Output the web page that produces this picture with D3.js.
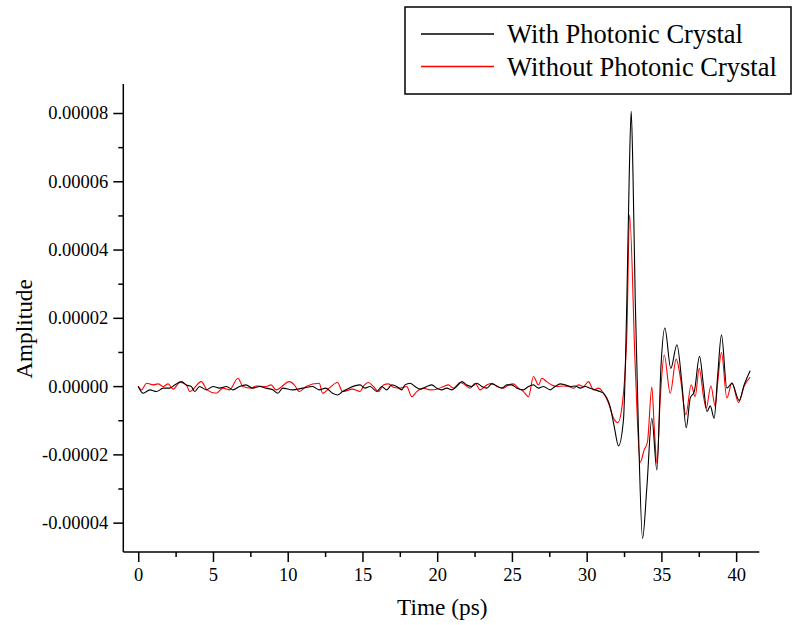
<!DOCTYPE html>
<html lang="en">
<head>
<meta charset="UTF-8">
<title>Time domain amplitude</title>
<style>
    body { margin: 0; background: #fff; }
    svg text { font-family: "Liberation Serif", "Times New Roman", serif; fill: #000; }
    .line { fill: none; stroke-width: 1.1px; }
    .tick-label { font-size: 18.5px; }
    .axis-title { font-size: 23.3px; }
    .legend-text { font-size: 26.5px; }
</style>
</head>
<body>
<svg id="chart" width="797" height="625"></svg>
<script src="https://cdn.jsdelivr.net/npm/d3@7"></script>
<script>
// amplitudes are in units of 1e-6
const timeWith = [
    0, 0.33, 0.78, 1.22, 1.67, 2.1, 2.44, 2.9, 3.2, 3.55, 3.78, 4.1, 4.55, 5.0, 5.44, 5.9, 6.33, 6.78,
    7.2, 7.67, 8.1, 8.55, 9.0, 9.33, 9.67, 10.33, 11.0, 11.67, 12.1, 12.55, 13.0, 13.33, 13.67, 14.1,
    14.84, 15.17, 15.51, 15.96, 16.29, 16.62, 16.96, 17.29, 17.63, 17.85, 18.19, 18.52, 18.86, 19.3,
    19.64, 19.97, 20.3, 20.64, 20.98, 21.31, 21.65, 21.98, 22.31, 22.65, 22.98, 23.32, 23.65, 23.99,
    24.32, 24.66, 24.99, 25.33, 25.77, 26.11, 26.44, 26.78, 27.11, 27.56, 27.89, 28.23, 28.56, 28.9,
    29.23, 29.57, 29.9, 30.23, 30.57, 30.9, 31.13, 31.35, 31.57, 31.85, 32.13, 32.46, 32.69, 32.85,
    32.98, 33.1, 33.25, 33.47, 33.74, 34.03, 34.36, 34.7, 34.97, 35.23, 35.63, 36.04, 36.37, 36.66,
    36.93, 37.2, 37.55, 37.82, 38.05, 38.27, 38.53, 38.76, 39.02, 39.38, 39.72, 40.2, 40.54, 40.94
];
const ampWith = [
    -0.1, -2.1, -1.1, -1.6, -0.6, -0.6, 0.35, 1.3, 0.35, -0.1, -1.6, -0.1, -1.1, -0.1, -0.6, -0.1, -1.1, -0.1,
    0.35, -0.6, -0.1, -0.6, -1.1, -2.1, -0.6, -1.1, -0.6, -0.1, -1.1, -0.6, -2.1, -2.6, -1.6, -0.6,
    0.35, -0.6, -0.1, -1.6, -0.1, -1.1, 0.35, -0.1, -1.1, 0.35, 0.85, -0.1, -0.9, -0.1,
    0.35, -0.6, -1.1, -0.6, -1.1, -0.1, 1.3, 0.35, -0.1, 0.85, -0.1, -0.6, 0.65, 0.05,
    -0.6, 0.35, 0.35, -0.6, -1.1, -0.1, 0.35, -0.6, -0.1, -1.1, -0.1, 0.65, 0.35, -0.1,
    0.05, -0.6, -0.1, -0.6, -1.1, -1.6, -2.1, -3.5, -6, -12, -17.5, -10, 25.3, 62,
    80.5, 62, 25.3, -13.7, -44.6, -29.5, -9.4, -24.6, 5.7, 17.0, 5.2, 12.1, 0.9, -12.2,
    -3.5, -1.6, 8.7, -0.1, -7.5, -5.8, -9.4, 2.8, 15.0, -0.6, 0.8, -4.2, 0.4, 4.5
];
const timeWithout = [
    0, 0.22, 0.56, 1.0, 1.33, 1.67, 2.0, 2.33, 2.78, 3.22, 3.44, 4.22, 4.6, 5.22, 5.67, 6.11, 6.67, 7.0,
    7.56, 7.89, 8.56, 8.89, 9.22, 10.11, 10.44, 10.78, 11.22, 12.11, 12.33, 12.78, 13.33, 13.67, 14.33,
    14.84, 15.06, 15.4, 15.73, 16.07, 16.4, 16.74, 17.07, 17.52, 17.96, 18.3, 18.63, 19.08, 19.53,
    19.97, 20.42, 20.75, 21.09, 21.53, 21.87, 22.2, 22.54, 22.87, 23.32, 23.65, 23.99, 24.43, 24.77,
    25.1, 25.44, 25.77, 26.11, 26.44, 26.78, 27.0, 27.33, 27.67, 28.0, 28.45, 28.78, 29.12, 29.45,
    29.79, 30.12, 30.46, 30.79, 31.13, 31.46, 31.8, 32.09, 32.35, 32.69, 32.87, 33.25, 33.58, 33.85,
    34.07, 34.36, 34.52, 34.7, 34.92, 35.19, 35.59, 35.99, 36.26, 36.64, 36.99, 37.26, 37.53, 37.82,
    38.0, 38.31, 38.6, 38.76, 39.02, 39.38, 39.72, 40.16, 40.54, 40.94
];
const ampWithout = [
    0.05, -1.1, 0.85, 0.35, 0.65, -0.15, 0.65, -0.9, 1.05, 0.35, -1.6, 1.3, -1.1, -2.1, -0.6, -1.1, 2.3, -0.1,
    -0.6, 0.05, -0.1, 0.35, -1.1, 1.3, 0.35, -1.6, -0.1, 0.85, -2.1, -0.6, 1.05, -1.6, -0.9,
    -1.6, -0.1, 1.05, -0.1, -1.6, 0.35, 0.65, -0.35, -0.6, -0.1, -3.1, -1.6, -0.6, -1.1,
    -0.9, -0.1, 0.35, -0.6, 1.05, 0.35, -0.6, 0.85, -1.1, 0.35, 0.85, -0.1, -0.6, 0.35,
    0.65, -0.6, -1.6, -3.1, 2.8, 0.35, 2.3, 1.3, 0.35, -0.1, 0.05, -0.1, -0.6, 0.35,
    -0.1, 1.3, -1.1, -0.6, -2.1, -5.0, -9.4, -10.7, -6.5, 15.5, 50.2, 5.7, -22.3, -18.7,
    -16.3, -0.3, -11.9, -22.6, -4.0, 9.1, -2.1, 7.9, 2.8, -8.4, 0.4, -3.1, 5.2, -3.1,
    -6.5, 0.1, -6.0, 0.8, 9.8, -3.5, 1.0, -4.8, 0.0, 2.6
];
const xTicks = [0, 5, 10, 15, 20, 25, 30, 35, 40];
const xMinorTicks = [2.5, 7.5, 12.5, 17.5, 22.5, 27.5, 32.5, 37.5];
const yTicks = [-0.00004, -0.00002, 0, 0.00002, 0.00004, 0.00006, 0.00008];
const yMinorTicks = [-0.00003, -0.00001, 0.00001, 0.00003, 0.00005, 0.00007];
const seriesNames = ["With Photonic Crystal", "Without Photonic Crystal"];
const seriesColors = ["#000000", "#ff0000"];

const svg = d3.select("#chart");
const plot = { left: 123.3, right: 759.3, top: 84, bottom: 552 };

const x = d3.scaleLinear().domain([-1.0, 41.55]).range([plot.left, plot.right]);
const y = d3.scaleLinear().domain([-0.0000486, 0.0000885]).range([plot.bottom, plot.top]);

// axes: major ticks 10px, minor 5px, both outward
const xAxis = svg.append("g").attr("transform", `translate(0,${plot.bottom})`)
    .call(d3.axisBottom(x).tickValues(xTicks).tickSize(10).tickPadding(6).tickFormat(d3.format("d")));
const xMinor = svg.append("g").attr("transform", `translate(0,${plot.bottom})`)
    .call(d3.axisBottom(x).tickValues(xMinorTicks).tickSize(5).tickFormat(""));
const yAxis = svg.append("g").attr("transform", `translate(${plot.left},0)`)
    .call(d3.axisLeft(y).tickValues(yTicks).tickSize(10).tickPadding(5).tickFormat(d => d.toFixed(5)));
const yMinor = svg.append("g").attr("transform", `translate(${plot.left},0)`)
    .call(d3.axisLeft(y).tickValues(yMinorTicks).tickSize(5).tickFormat(""));

[xAxis, xMinor, yAxis, yMinor].forEach(a => {
    a.selectAll("path").attr("stroke", "#000").attr("stroke-width", 1.5);
    a.selectAll("line").attr("stroke", "#000").attr("stroke-width", 1.5);
    a.selectAll("text").attr("class", "tick-label").attr("font-size", null).attr("font-family", null);
});
// keep axis lines exactly at the plot edges (no outer ticks)
xAxis.select(".domain").attr("d", `M${plot.left},0H${plot.right}`);
xMinor.select(".domain").remove();
yAxis.select(".domain").attr("d", `M0,${plot.top}V${plot.bottom}`);
yMinor.select(".domain").remove();

// axis titles
svg.append("text").attr("class", "axis-title")
    .attr("x", (plot.left + plot.right) / 2 + 1).attr("y", 615)
    .attr("text-anchor", "middle").text("Time (ps)");
svg.append("text").attr("class", "axis-title")
    .attr("transform", "translate(32,329) rotate(-90)")
    .attr("text-anchor", "middle").text("Amplitude");

// lines
const line = d3.line()
    .x(d => x(d[0]))
    .y(d => y(d[1] * 1e-6))
    .curve(d3.curveMonotoneX);

const series = [
    d3.zip(timeWithout, ampWithout),
    d3.zip(timeWith, ampWith)
];
svg.append("path").datum(series[0]).attr("class", "line")
    .attr("stroke", seriesColors[1]).attr("d", line);
svg.append("path").datum(series[1]).attr("class", "line")
    .attr("stroke", seriesColors[0]).attr("d", line);

// legend
const legend = svg.append("g");
legend.append("rect")
    .attr("x", 405).attr("y", 7).attr("width", 386).attr("height", 87)
    .attr("fill", "#fff").attr("stroke", "#000").attr("stroke-width", 1.5);
seriesNames.forEach((name, i) => {
    const ly = 34 + i * 32.5;
    legend.append("line")
        .attr("x1", 421).attr("x2", 494).attr("y1", ly).attr("y2", ly)
        .attr("stroke", seriesColors[i]).attr("stroke-width", 1.5);
    legend.append("text").attr("class", "legend-text")
        .attr("x", 507).attr("y", ly + 9).text(name);
});
</script>
</body>
</html>
